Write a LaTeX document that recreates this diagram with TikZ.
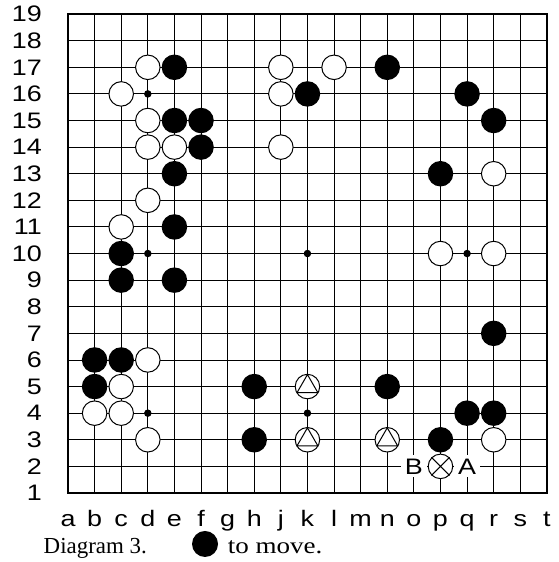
\documentclass[tikz,border=0pt]{standalone}
\usepackage{fontspec}
\setmainfont{Liberation Serif}
\newfontfamily\boardfont[FakeStretch=1.2]{Liberation Sans}
\newfontfamily\movefont[FakeStretch=1.18]{Liberation Serif}
\begin{document}
\begin{tikzpicture}[x=26.6bp,y=26.6bp,
	wstone/.style={circle,draw,fill=white,line width=1bp,inner sep=0pt,minimum size=24.5bp},
	bstone/.style={circle,fill=black,inner sep=0pt,minimum size=25.5bp},
	hoshi/.style={circle,fill=black,inner sep=0pt,minimum size=7.5bp},
	coord/.style={font=\boardfont\fontsize{22.5}{24}\selectfont,inner sep=0pt},
	letter/.style={coord,fill=white,minimum width=26bp,minimum height=22bp},
	caption/.style={font=\fontsize{23}{26}\selectfont,inner sep=0pt,anchor=base west}]
	\useasboundingbox(-2.556,-2.594)rectangle(18.42,18.53);
	% board
	\foreach \i in {1,...,17}{
		\draw[line width=.9bp](\i,0)--(\i,18);
		\draw[line width=.9bp](0,\i)--(18,\i);
	}
	\draw[line width=2.3bp](0,0)rectangle(18,18);
	\foreach \c[count=\n from 0] in {a,b,c,d,e,f,g,h,j,k,l,m,n,o,p,q,r,s,t}
		\node[coord,anchor=base](col\c)at(\n,-1.267){\c};
	\foreach \r in {1,...,19}
		\node[coord,anchor=east](row\r)at(-.98,{\r-1}){\r};
	\foreach \x in {3,9,15}
		\foreach \y in {3,9,15}
			\node[hoshi](h\x\y)at(\x,\y){};
	% black stones
	\foreach \p/\x/\y in {e17/4/16,n17/12/16,k16/9/15,q16/15/15,e15/4/14,f15/5/14,
		r15/16/14,f14/5/13,e13/4/12,p13/14/12,e11/4/10,c10/2/9,c9/2/8,e9/4/8,r7/16/6,
		b6/1/5,c6/2/5,b5/1/4,h5/7/4,n5/12/4,q4/15/3,r4/16/3,h3/7/2,p3/14/2}
		\node[bstone](\p)at(\x,\y){};
	% white stones
	\foreach \p/\x/\y in {d17/3/16,j17/8/16,l17/10/16,c16/2/15,j16/8/15,d15/3/14,
		d14/3/13,e14/4/13,j14/8/13,r13/16/12,d12/3/11,c11/2/10,p10/14/9,r10/16/9,
		d6/3/5,c5/2/4,b4/1/3,c4/2/3,d3/3/2,r3/16/2,k5/9/4,k3/9/2,n3/12/2}
		\node[wstone](\p)at(\x,\y){};
	\foreach \p in {k5,k3,n3}
		\draw[line width=1bp,shift={(\p)}](90:.45)--(210:.45)--(330:.45)--cycle;
	% marked points
	\node[wstone](p2)at(14,1){};
	\draw[line width=1bp](p2.45)--(p2.225)(p2.135)--(p2.315);
	\node[letter](B)at(13,1){B};
	\node[letter](A)at(15,1){A};
	% caption
	\node[caption](cap)at(-.92,-2.256){Diagram 3.};
	\node[bstone,minimum size=26bp](capstone)at(5.15,-1.917){};
	\node[caption,font=\movefont\fontsize{23}{26}\selectfont](move)at(6.0,-2.256){to move.};
\end{tikzpicture}
\end{document}
